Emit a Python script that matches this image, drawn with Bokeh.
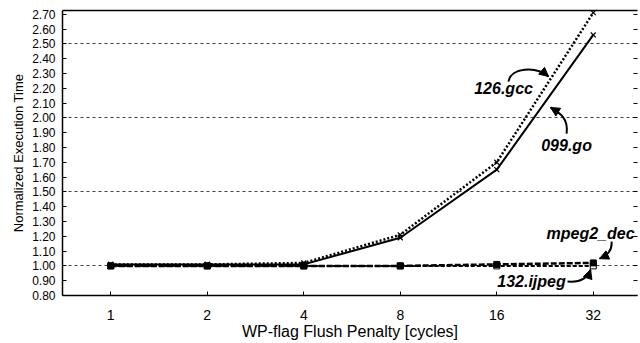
from bokeh.plotting import figure
from bokeh.models import (FixedTicker, NumeralTickFormatter, LinearAxis, Arrow,
                          NormalHead, Range1d)
from bokeh.core.properties import value
from bokeh.embed import file_html
from bokeh.resources import INLINE

# ---- data ----
penalty = [1, 2, 4, 8, 16, 32]
penalty_labels = ["1", "2", "4", "8", "16", "32"]
gcc_126 = [1.01, 1.01, 1.02, 1.21, 1.70, 2.71]
go_099 = [1.01, 1.01, 1.01, 1.19, 1.65, 2.56]
mpeg2_dec = [1.00, 1.00, 1.00, 1.00, 1.01, 1.02]
ijpeg_132 = [1.00, 1.00, 1.00, 1.00, 1.00, 1.00]
y_ticks = [0.80, 0.90, 1.00, 1.10, 1.20, 1.30, 1.40, 1.50, 1.60, 1.70, 1.80,
           1.90, 2.00, 2.10, 2.20, 2.30, 2.40, 2.50, 2.60, 2.70]
grid_levels = [1.0, 1.5, 2.0, 2.5]

FONT = "Liberation Sans"

p = figure(width=640, height=343, x_axis_type="log",
           x_range=Range1d(0.7071, 43.96), y_range=Range1d(0.80, 2.725),
           output_backend="svg", toolbar_location=None,
           min_border_left=62, min_border_right=3, min_border_top=10,
           min_border_bottom=48)
p.outline_line_color = None
p.background_fill_color = "white"
p.border_fill_color = "white"

# grid
p.xgrid.visible = False
p.ygrid.ticker = FixedTicker(ticks=grid_levels)
p.ygrid.grid_line_color = "black"
p.ygrid.grid_line_dash = "3 3"
p.ygrid.grid_line_width = 1
p.ygrid.grid_line_alpha = 0.75

# x axis
xa = p.xaxis[0]
xa.ticker = FixedTicker(ticks=penalty)
xa.major_label_overrides = {v: s for v, s in zip(penalty, penalty_labels)}
xa.minor_tick_line_color = None
xa.major_tick_in = 4
xa.major_tick_out = 0
xa.major_label_standoff = 14
xa.axis_label = "WP-flag Flush Penalty [cycles]"
xa.axis_label_standoff = 0
xa.axis_label_text_font = FONT
xa.axis_label_text_font_style = "normal"
xa.axis_label_text_font_size = "16px"
xa.axis_label_text_color = "black"
xa.major_label_text_font = FONT
xa.major_label_text_font_size = "14px"
xa.major_label_text_color = "black"
xa.axis_line_width = 1.5
xa.axis_line_color = "black"
xa.major_tick_line_color = "black"

# y axis
ya = p.yaxis[0]
ya.ticker = FixedTicker(ticks=y_ticks)
ya.formatter = NumeralTickFormatter(format="0.00")
ya.minor_tick_line_color = None
ya.major_tick_in = 4
ya.major_tick_out = 0
ya.major_label_standoff = 7
ya.axis_label = "Normalized Execution Time"
ya.axis_label_standoff = 3
ya.axis_label_text_font = FONT
ya.axis_label_text_font_style = "normal"
ya.axis_label_text_font_size = "13px"
ya.axis_label_text_color = "black"
ya.major_label_text_font = FONT
ya.major_label_text_font_size = "12px"
ya.major_label_text_color = "black"
ya.axis_line_width = 1.5
ya.axis_line_color = "black"
ya.major_tick_line_color = "black"

# right axis: ticks only
ra = LinearAxis(ticker=FixedTicker(ticks=y_ticks), axis_line_color=None,
                major_tick_in=4, major_tick_out=0, minor_tick_line_color=None,
                major_tick_line_color="black", major_label_standoff=0,
                major_label_overrides={t: "" for t in y_ticks})
p.add_layout(ra, "right")

# top axis: line only
ta = LinearAxis(ticker=FixedTicker(ticks=[]), major_tick_in=0, major_tick_out=0,
                minor_tick_line_color=None, major_label_standoff=0,
                axis_line_width=1.5, axis_line_color="black")
p.add_layout(ta, "above")

# ---- series ----
p.line(penalty, ijpeg_132, line_color="black", line_width=2, line_dash="4 2")
p.scatter(penalty, ijpeg_132, marker="square", size=6, line_color="black",
          fill_color="white", line_width=1)
p.line(penalty, mpeg2_dec, line_color="black", line_width=2.5, line_dash="6 2")
p.scatter(penalty, mpeg2_dec, marker="square", size=6, line_color="black",
          fill_color="black")
p.line(penalty, go_099, line_color="black", line_width=2)
p.scatter(penalty, go_099, marker="x", size=7, line_color="black", line_width=1.2)
p.line(penalty, gcc_126, line_color="black", line_width=2.5, line_dash="2 2")
p.scatter(penalty, gcc_126, marker="x", size=7, line_color="black", line_width=1.2)

# ---- annotations ----
labels = ["126.gcc", "099.go", "mpeg2_dec", "132.ijpeg"]
label_x = [16.80, 26.41, 31.38, 20.53]
label_y = [2.198, 1.813, 1.218, 0.894]
p.text(label_x, label_y, text=labels, text_align="center",
       text_baseline="middle", text_font=value(FONT),
       text_font_style="bold italic", text_font_size="16px", text_color="black")

# curved arrows: start, control1, control2, end
arr_x0 = [17.41, 26.41, 36.48, 26.59]
arr_y0 = [2.245, 1.894, 1.164, 0.894]
arr_cx0 = [17.67, 26.79, 36.73, 29.21]
arr_cy0 = [2.340, 1.995, 1.097, 0.887]
arr_cx1 = [21.14, 25.30, 35.19, 30.69]
arr_cy1 = [2.353, 2.029, 1.070, 0.914]
arr_x1 = [23.20, 23.54, 33.47, 31.38]
arr_y1 = [2.279, 2.070, 1.049, 0.975]
p.bezier(x0=arr_x0, y0=arr_y0, x1=arr_x1, y1=arr_y1, cx0=arr_cx0, cy0=arr_cy0,
         cx1=arr_cx1, cy1=arr_cy1, line_color="black", line_width=2)
for xs, ys, xe, ye in zip(arr_cx1, arr_cy1, arr_x1, arr_y1):
    p.add_layout(Arrow(end=NormalHead(size=9, fill_color="black", line_color="black"),
                       x_start=xs, y_start=ys, x_end=xe, y_end=ye, line_alpha=0))

open("out.html", "w").write(file_html(p, INLINE))
